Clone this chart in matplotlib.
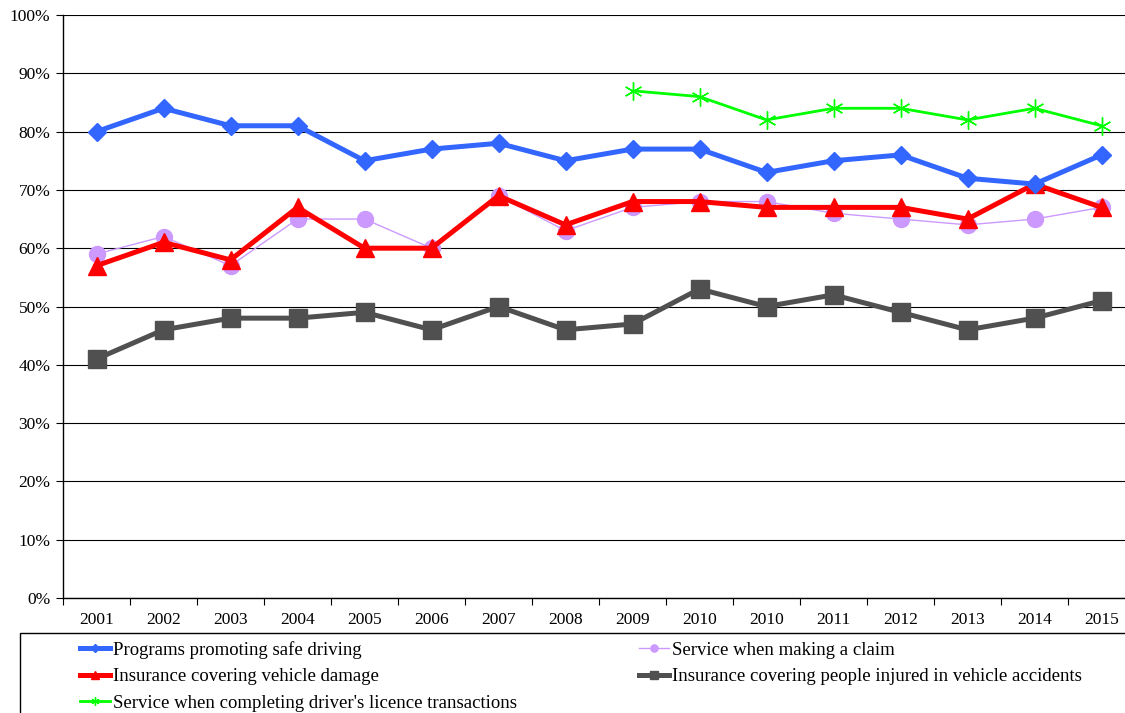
import matplotlib
matplotlib.use("Agg")
import matplotlib.pyplot as plt
import numpy as np
from matplotlib.patches import Rectangle
from matplotlib.ticker import FixedLocator, PercentFormatter

plt.rcParams['font.family'] = ['Liberation Serif', 'DejaVu Serif']

years = ["2001", "2002", "2003", "2004", "2005", "2006", "2007", "2008",
         "2009", "2010", "2010", "2011", "2012", "2013", "2014", "2015"]

safe_driving = [80, 84, 81, 81, 75, 77, 78, 75, 77, 77, 73, 75, 76, 72, 71, 76]
claim_service = [59, 62, 57, 65, 65, 60, 69, 63, 67, 68, 68, 66, 65, 64, 65, 67]
vehicle_damage = [57, 61, 58, 67, 60, 60, 69, 64, 68, 68, 67, 67, 67, 65, 71, 67]
people_injured = [41, 46, 48, 48, 49, 46, 50, 46, 47, 53, 50, 52, 49, 46, 48, 51]
licence_service = [None] * 8 + [87, 86, 82, 84, 84, 82, 84, 81]

x = np.arange(len(years))
lic = np.array([np.nan if v is None else v for v in licence_service], dtype=float)

fig = plt.figure(figsize=(11.25, 7.13), dpi=100)
ax = fig.add_axes([63 / 1125, 115 / 713, 1072 / 1125, 583 / 713])

ax.plot(x, people_injured, color='#505050', lw=3.6, marker='s', ms=13,
        label='Insurance covering people injured in vehicle accidents', zorder=3)
ax.plot(x, claim_service, color='#CC99FF', lw=1.0, marker='o', ms=11.5,
        label='Service when making a claim', zorder=4)
ax.plot(x, vehicle_damage, color='#FF0000', lw=3.6, marker='^', ms=13,
        label='Insurance covering vehicle damage', zorder=5)
ax.plot(x, safe_driving, color='#3366FF', lw=3.6, marker='D', ms=9,
        label='Programs promoting safe driving', zorder=6)
ax.plot(x, lic, color='#00FF00', lw=2.0, marker=(6, 2, 0), ms=13, mew=1.0,
        label="Service when completing driver's licence transactions", zorder=7)

ax.set_xlim(-0.5, len(years) - 0.5)
ax.set_ylim(0, 100)
ax.yaxis.set_major_locator(FixedLocator(np.arange(0, 101, 10)))
ax.yaxis.set_major_formatter(PercentFormatter(decimals=0))
ax.grid(axis='y', color='black', lw=0.8)
ax.set_axisbelow(True)

ax.set_xticks(x)
ax.set_xticklabels(years)
ax.xaxis.set_minor_locator(FixedLocator(np.arange(-0.5, len(years), 1)))
ax.tick_params(axis='x', which='major', length=0, pad=10, labelsize=12.5)
ax.tick_params(axis='x', which='minor', length=5, width=0.8, direction='out')
ax.tick_params(axis='y', length=5, width=0.8, labelsize=12.5, pad=4)

for side in ['top', 'right']:
    ax.spines[side].set_visible(False)
for side in ['left', 'bottom']:
    ax.spines[side].set_linewidth(1.0)

# legend box below the plot
fig.patches.append(Rectangle((20 / 1125, -0.02), 1.1, (713 - 633) / 713 + 0.02,
                             transform=fig.transFigure, fill=False,
                             edgecolor='black', lw=1.0))

handles, labels = ax.get_legend_handles_labels()
order = [3, 2, 4, 1, 0]
leg = fig.legend([handles[i] for i in order], [labels[i] for i in order],
                 loc='upper left', bbox_to_anchor=(80 / 1125, (713 - 641) / 713),
                 ncol=2, frameon=False, fontsize=13.5, markerscale=0.45,
                 handlelength=1.6, handletextpad=0.15, columnspacing=6.5,
                 labelspacing=0.5, borderaxespad=0, borderpad=0)

fig.savefig('out.png', dpi=100)
